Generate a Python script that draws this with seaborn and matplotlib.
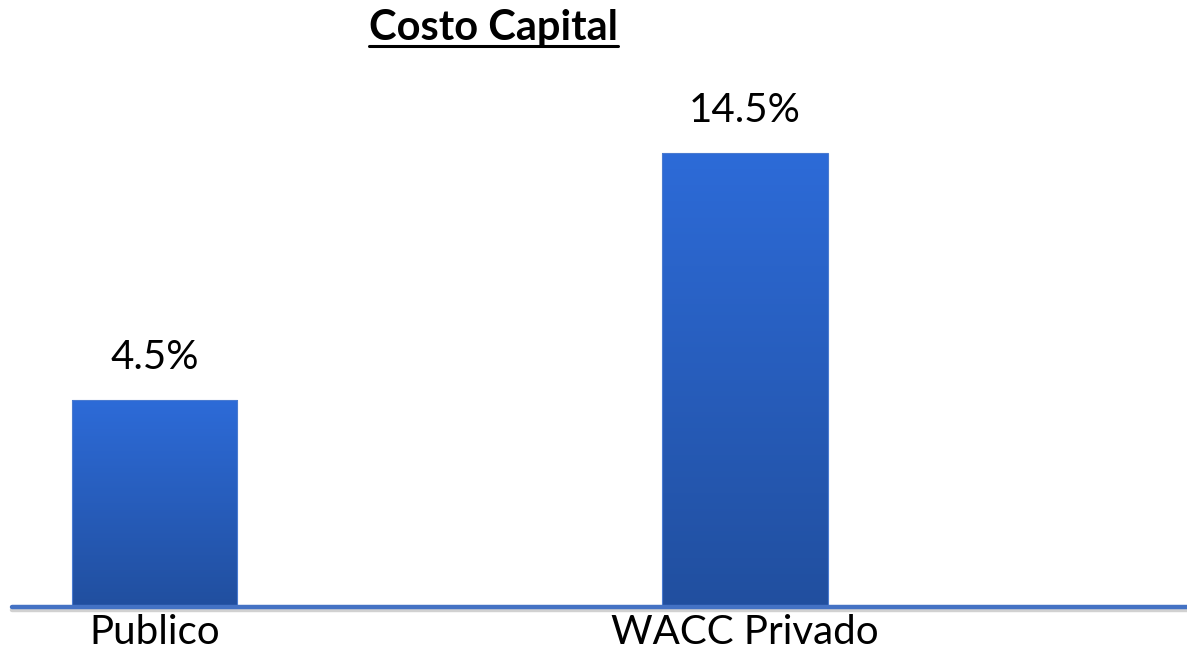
import numpy as np
import matplotlib
matplotlib.use('Agg')
import matplotlib.pyplot as plt
import matplotlib.patheffects as pe
from matplotlib.colors import LinearSegmentedColormap
from matplotlib.lines import Line2D
import seaborn as sns
import pandas as pd

# datos
categorias = ['Publico', 'WACC Privado']
valores = [4.5, 14.5]
etiquetas = ['4.5%', '14.5%']
titulo = 'Costo Capital'

sns.set_theme(style='white')
plt.rcParams['font.family'] = ['Lato', 'DejaVu Sans']

df = pd.DataFrame({'categoria': categorias, 'valor': valores})

W, H = 1187, 651
fig = plt.figure(figsize=(W / 100, H / 100), dpi=100)
ax = fig.add_axes([12 / W, 44 / H, 1 - 12 / W, 607 / H])

sns.barplot(data=df, x='categoria', y='valor', width=0.28, color='#2d62c4',
            ax=ax, zorder=2.6)

# el eje del original no parte de cero
piso, techo = -3.9, 20.7
xlim = (-0.242, 1.749)

# degradado vertical en cada barra
cmap = LinearSegmentedColormap.from_list('azul', ['#214f9f', '#2d6bd8'])
grad = np.linspace(0, 1, 256).reshape(-1, 1)
for p in ax.patches:
    h = p.get_height()
    p.set_y(piso)
    p.set_height(h - piso)
    p.set_facecolor('none')
    p.set_edgecolor('#4a7bd0')
    p.set_linewidth(0.8)
    x0 = p.get_x()
    im = ax.imshow(grad, extent=[x0, x0 + p.get_width(), piso, h], origin='lower',
                   aspect='auto', cmap=cmap, zorder=2.5, interpolation='bilinear')
    im.set_clip_path(p)

ax.bar_label(ax.containers[0], labels=etiquetas, padding=17, fontsize=29, color='black')

# linea base
ax.axhline(piso, color='#4472c4', lw=3.2, zorder=3, clip_on=False,
           path_effects=[pe.SimpleLineShadow(offset=(0, -2.5), alpha=0.2), pe.Normal()])

ax.set_xlim(*xlim)
ax.set_ylim(piso, techo)
ax.set_xlabel('')
ax.set_ylabel('')
ax.set_yticks([])
ax.tick_params(axis='x', length=0, pad=5, labelsize=29, labelcolor='black')
for s in ax.spines.values():
    s.set_visible(False)

# titulo subrayado
t = fig.text(493 / W, 1 - 40 / H, titulo, ha='center', va='baseline',
             fontsize=30, fontweight='bold', color='black')
fig.canvas.draw()
bb = t.get_window_extent()
fig.add_artist(Line2D([bb.x0 / W, bb.x1 / W], [1 - 46 / H, 1 - 46 / H],
                      transform=fig.transFigure, color='black', lw=2.2))

fig.savefig('out.png', dpi=100)
